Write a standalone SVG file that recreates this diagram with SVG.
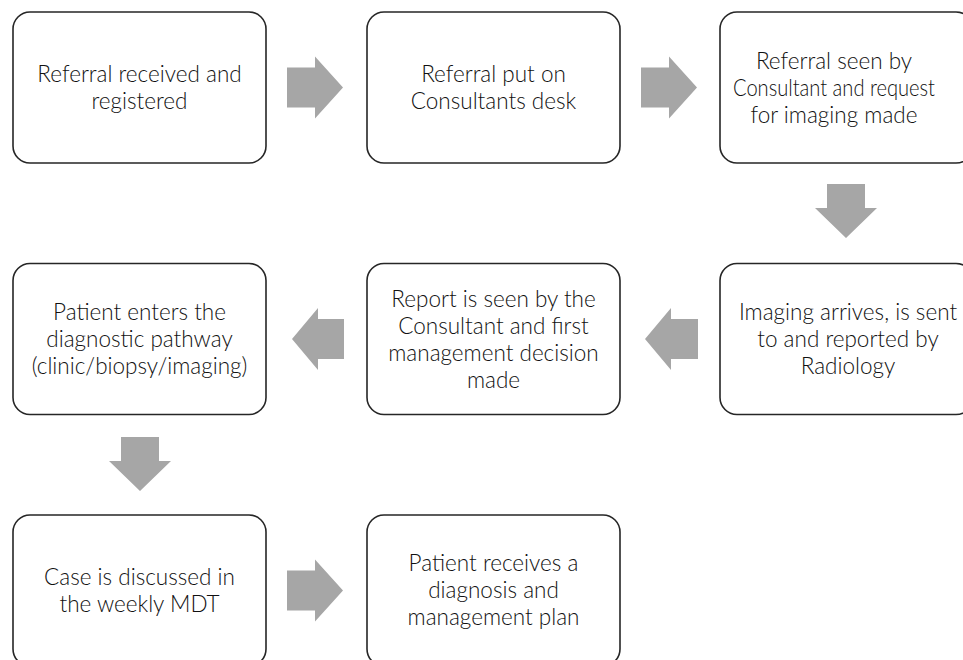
<svg xmlns="http://www.w3.org/2000/svg" width="963" height="660" viewBox="0 0 963 660">
<style>
.box{fill:#ffffff;stroke:#262626;stroke-width:1.6}
.t{font-family:Lato,"Open Sans","Liberation Sans",sans-serif;font-weight:300;font-size:22.5px;fill:#111111;text-anchor:middle}
.arr{fill:#a6a6a6}
</style>
<rect width="963" height="660" fill="#ffffff"/>
<g id="connectors">
<polygon class="arr" points="287,67.5 315,67.5 315,56.5 343,87.5 315,118.5 315,107.5 287,107.5"/>
<polygon class="arr" points="641,67.5 669,67.5 669,56.5 697,87.5 669,118.5 669,107.5 641,107.5"/>
<polygon class="arr" points="827,184 865,184 865,208 877,208 846,238 815,208 827,208"/>
<polygon class="arr" points="698,319 671,319 671,308 645,339 671,370 671,359 698,359"/>
<polygon class="arr" points="344,319 318,319 318,308 292,339 318,370 318,359 344,359"/>
<polygon class="arr" points="121,437 159,437 159,461 171,461 140,491 109,461 121,461"/>
<polygon class="arr" points="287,570.5 315,570.5 315,559.5 343,590.5 315,621.5 315,610.5 287,610.5"/>
</g>
<g id="n1"><rect class="box" x="13" y="12" width="253" height="151" rx="17"/>
<text class="t" x="139.5" y="82">Referral received and</text><text class="t" x="139.5" y="109">registered</text></g>
<g id="n2"><rect class="box" x="367" y="12" width="253" height="151" rx="17"/>
<text class="t" x="493.5" y="82">Referral put on</text><text class="t" x="493.5" y="109">Consultants desk</text></g>
<g id="n3"><rect class="box" x="720" y="12" width="253" height="151" rx="17"/>
<text class="t" x="834" y="68.5">Referral seen by</text><text class="t" x="834" y="95.5" textLength="202" lengthAdjust="spacingAndGlyphs">Consultant and request</text><text class="t" x="834" y="122.5">for imaging made</text></g>
<g id="n4"><rect class="box" x="13" y="263.5" width="253" height="151" rx="17"/>
<text class="t" x="139.5" y="320">Patient enters the</text><text class="t" x="139.5" y="347">diagnostic pathway</text><text class="t" x="139.5" y="374">(clinic/biopsy/imaging)</text></g>
<g id="n5"><rect class="box" x="367" y="263.5" width="253" height="151" rx="17"/>
<text class="t" x="493.5" y="306.5">Report is seen by the</text><text class="t" x="493.5" y="333.5">Consultant and first</text><text class="t" x="493.5" y="360.5">management decision</text><text class="t" x="493.5" y="387.5">made</text></g>
<g id="n6"><rect class="box" x="720" y="263.5" width="253" height="151" rx="17"/>
<text class="t" x="848" y="320">Imaging arrives, is sent</text><text class="t" x="848" y="347">to and reported by</text><text class="t" x="848" y="374">Radiology</text></g>
<g id="n7"><rect class="box" x="13" y="515" width="253" height="151" rx="17"/>
<text class="t" x="139.5" y="585">Case is discussed in</text><text class="t" x="139.5" y="612">the weekly MDT</text></g>
<g id="n8"><rect class="box" x="367" y="515" width="253" height="151" rx="17"/>
<text class="t" x="493.5" y="571">Patient receives a</text><text class="t" x="493.5" y="598">diagnosis and</text><text class="t" x="493.5" y="625">management plan</text></g>
</svg>
